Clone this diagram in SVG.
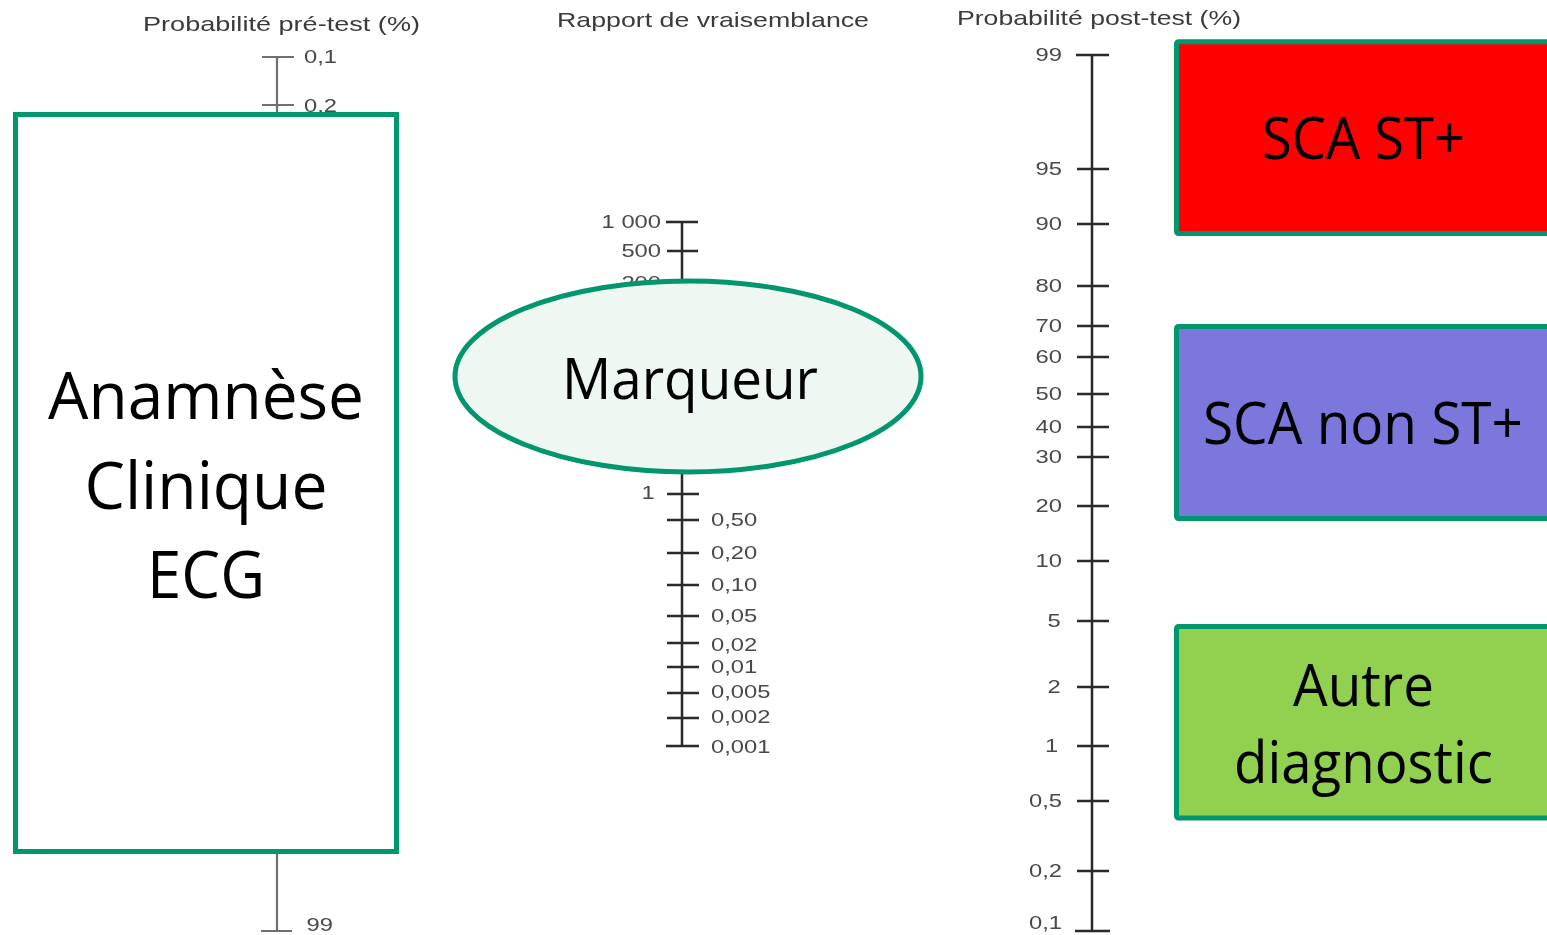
<svg xmlns="http://www.w3.org/2000/svg" width="1547" height="935" viewBox="0 0 1547 935">
  <defs>
    <filter id="soft" x="-5%" y="-5%" width="110%" height="110%">
      <feGaussianBlur stdDeviation="0.7"/>
    </filter>
  </defs>
  <style>
    .title { font-family: "Liberation Sans", Arial, sans-serif; font-size: 21px; fill: #3a3a3a; }
    .tick-label { font-family: "Liberation Sans", Arial, sans-serif; font-size: 19px; fill: #484848; }
    .axis { stroke: #2a2a2a; stroke-width: 2.5; fill: none; }
    .axis-light { stroke: #707070; stroke-width: 2.2; fill: none; }
    .node-frame { stroke: #00966E; stroke-width: 5; }
    .node-text { font-family: "Open Sans", "Noto Sans", sans-serif; fill: #000; text-anchor: middle; }
  </style>

  <rect width="1547" height="935" fill="#ffffff"/>

  <!-- Fagan nomogram: three scales with their headings -->
  <g id="nomogram" filter="url(#soft)">
    <text class="title" x="143" y="31" textLength="277" lengthAdjust="spacingAndGlyphs">Probabilité pré-test (%)</text>
    <text class="title" x="557" y="27" textLength="312" lengthAdjust="spacingAndGlyphs">Rapport de vraisemblance</text>
    <text class="title" x="957" y="25" textLength="284" lengthAdjust="spacingAndGlyphs">Probabilité post-test (%)</text>

    <!-- pre-test probability scale -->
    <g id="scale-pretest">
      <path class="axis-light" d="M277 57V931 M262 57H294 M262 105H294 M261 931H292"/>
      <g transform="translate(304 0) scale(1.25 1)">
        <text class="tick-label" x="0" y="63">0,1</text>
        <text class="tick-label" x="0" y="112">0,2</text>
        <text class="tick-label" x="2" y="931">99</text>
      </g>
    </g>

    <!-- likelihood ratio scale -->
    <g id="scale-ratio">
      <path class="axis" d="M682 222V746 M666 222H698 M667 251H698 M667 284H698 M667 494H699 M667 520H699 M667 553H699 M667 585H699 M667 616H699 M667 643H699 M667 667H699 M667 693H699 M667 718H699 M666 746H699"/>
      <g transform="translate(661 0) scale(1.25 1)" text-anchor="end">
        <text class="tick-label" x="0" y="228">1 000</text>
        <text class="tick-label" x="0" y="257">500</text>
        <text class="tick-label" x="0" y="289">200</text>
        <text class="tick-label" x="-5" y="499">1</text>
      </g>
      <g transform="translate(711 0) scale(1.25 1)">
        <text class="tick-label" x="0" y="526">0,50</text>
        <text class="tick-label" x="0" y="559">0,20</text>
        <text class="tick-label" x="0" y="591">0,10</text>
        <text class="tick-label" x="0" y="622">0,05</text>
        <text class="tick-label" x="0" y="651">0,02</text>
        <text class="tick-label" x="0" y="673">0,01</text>
        <text class="tick-label" x="0" y="698">0,005</text>
        <text class="tick-label" x="0" y="723">0,002</text>
        <text class="tick-label" x="0" y="753">0,001</text>
      </g>
    </g>

    <!-- post-test probability scale -->
    <g id="scale-posttest">
      <path class="axis" d="M1092 55V931 M1076 55H1109 M1077 169H1109 M1077 224H1109 M1077 286H1109 M1077 326H1109 M1077 357H1109 M1077 394H1109 M1077 427H1109 M1077 457H1109 M1077 506H1109 M1077 561H1109 M1077 621H1109 M1077 687H1109 M1077 746H1109 M1077 801H1109 M1077 871H1109 M1075 931H1110"/>
      <g transform="translate(1062 0) scale(1.25 1)" text-anchor="end">
        <text class="tick-label" x="0" y="61">99</text>
        <text class="tick-label" x="0" y="175">95</text>
        <text class="tick-label" x="0" y="230">90</text>
        <text class="tick-label" x="0" y="292">80</text>
        <text class="tick-label" x="0" y="332">70</text>
        <text class="tick-label" x="0" y="363">60</text>
        <text class="tick-label" x="0" y="400">50</text>
        <text class="tick-label" x="0" y="433">40</text>
        <text class="tick-label" x="0" y="463">30</text>
        <text class="tick-label" x="0" y="512">20</text>
        <text class="tick-label" x="0" y="567">10</text>
        <text class="tick-label" x="-1" y="627">5</text>
        <text class="tick-label" x="-1" y="693">2</text>
        <text class="tick-label" x="-3" y="752">1</text>
        <text class="tick-label" x="0" y="807">0,5</text>
        <text class="tick-label" x="0" y="877">0,2</text>
        <text class="tick-label" x="0" y="929">0,1</text>
      </g>
    </g>
  </g>

  <!-- nodes -->
  <g id="node-anamnese">
    <rect class="node-frame" x="15.5" y="114.5" width="381" height="737" fill="#ffffff"/>
    <text class="node-text" x="206" y="419" font-size="66" textLength="316" lengthAdjust="spacingAndGlyphs">Anamnèse</text>
    <text class="node-text" x="206" y="509" font-size="66" textLength="243" lengthAdjust="spacingAndGlyphs">Clinique</text>
    <text class="node-text" x="206" y="598" font-size="66" textLength="118" lengthAdjust="spacingAndGlyphs">ECG</text>
  </g>

  <g id="node-marqueur">
    <ellipse class="node-frame" cx="688" cy="376.5" rx="233" ry="95.5" fill="#EEF7F2" stroke-width="4.5"/>
    <text class="node-text" x="690" y="399" font-size="56" textLength="256" lengthAdjust="spacingAndGlyphs">Marqueur</text>
  </g>

  <g id="node-sca-st">
    <rect class="node-frame" x="1176.5" y="41.8" width="420" height="191.7" rx="2" fill="#FF0000"/>
    <text class="node-text" x="1363.5" y="159" font-size="59" textLength="203" lengthAdjust="spacingAndGlyphs">SCA ST+</text>
  </g>

  <g id="node-sca-nst">
    <rect class="node-frame" x="1176.5" y="326.5" width="420" height="192" rx="2" fill="#7B77DC"/>
    <text class="node-text" x="1363" y="444" font-size="59" textLength="320" lengthAdjust="spacingAndGlyphs">SCA non ST+</text>
  </g>

  <g id="node-autre">
    <rect class="node-frame" x="1176.5" y="626.5" width="420" height="191.5" rx="2" fill="#92D050"/>
    <text class="node-text" x="1363.5" y="706" font-size="59" textLength="141" lengthAdjust="spacingAndGlyphs">Autre</text>
    <text class="node-text" x="1363.5" y="783" font-size="59" textLength="259" lengthAdjust="spacingAndGlyphs">diagnostic</text>
  </g>

  <!-- the diagram has no connectors between nodes -->
  <g id="connectors"/>
</svg>
